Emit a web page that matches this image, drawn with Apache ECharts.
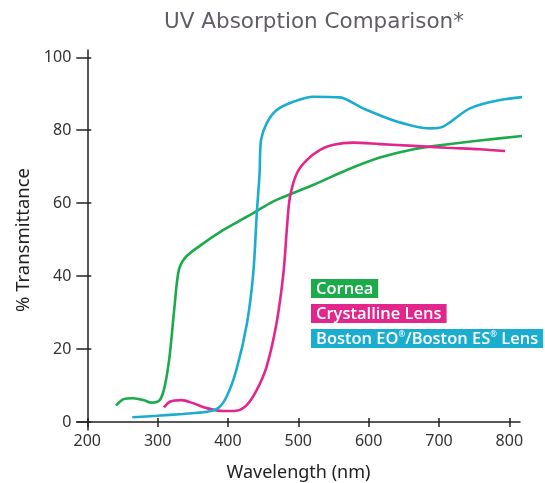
<!DOCTYPE html>
<html>
<head>
    <meta charset="utf8">
    <title>UV Absorption Comparison</title>
    <script src="https://cdn.jsdelivr.net/npm/echarts@6/dist/echarts.min.js"></script>
</head>
<body style="margin:0;background:#fff;">
    <div id="main" style="width: 545px;height:483px;"></div>
    <script type="text/javascript">
        // tick labels
        var xTicks = [200, 300, 400, 500, 600, 700, 800];
        var yTicks = [0, 20, 40, 60, 80, 100];

        // Cornea
        var corneaX = [241, 251, 265, 280, 291, 303, 310, 317, 324, 330, 339, 360, 393, 427, 460, 474, 521, 569, 616, 664, 711, 758, 822];
        var corneaY = [4.5, 6.2, 6.5, 6.0, 5.3, 6.0, 9.7, 18, 31.6, 41.5, 45, 48.3, 52.6, 56.3, 60, 61.3, 65, 69.1, 72.5, 74.8, 76.1, 77.2, 78.5];

        // Crystalline Lens
        var lensX = [309, 318, 334, 351, 370, 393, 412, 427, 441, 455, 469, 479, 484, 488, 498, 512, 531, 550, 578, 616, 664, 711, 758, 794];
        var lensY = [4.0, 5.6, 6.0, 5.1, 3.8, 3.0, 3.1, 4.7, 8.8, 15.2, 27, 41, 53.6, 61.5, 68.2, 71.8, 74.6, 76, 76.6, 76.2, 75.7, 75.2, 74.8, 74.3];

        // Boston EO / Boston ES Lens
        var bostonX = [264, 299, 336, 370, 386, 398, 412, 427, 436, 441, 445, 447, 455, 469, 493, 521, 559, 592, 640, 687, 706, 744, 787, 837];
        var bostonY = [1.3, 1.7, 2.2, 2.8, 3.8, 6.9, 14.3, 27, 40.8, 57.2, 68.2, 77.3, 81.9, 85.5, 87.8, 89.2, 89, 86, 82.4, 80.5, 81, 86, 88.3, 89.4];

        var names = ['Cornea', 'Crystalline Lens', 'Boston EO/Boston ES Lens'];
        var colors = ['#1bab4b', '#e2268c', '#1badd0'];

        function pairs(xs, ys) {
            var out = [];
            for (var i = 0; i < xs.length; i++) {
                out.push([xs[i], ys[i]]);
            }
            return out;
        }
        var allData = [pairs(corneaX, corneaY), pairs(lensX, lensY), pairs(bostonX, bostonY)];

        var labelFont = 'Noto Sans';
        var myChart = echarts.init(document.getElementById('main'));

        var series = [];
        for (var k = 0; k < names.length; k++) {
            series.push({
                name: names[k],
                type: 'line',
                data: allData[k],
                smooth: 0.3,
                showSymbol: false,
                clip: false,
                lineStyle: { color: colors[k], width: 2.6 },
                itemStyle: { color: colors[k] }
            });
        }

        function legendItem(i) {
            return {
                name: names[i],
                textStyle: {
                    backgroundColor: colors[i],
                    color: '#fff',
                    padding: [2, 5, 1, 5]
                }
            };
        }

        var option = {
            backgroundColor: '#fff',
            animation: false,
            title: {
                text: 'UV Absorption Comparison*',
                left: 309,
                top: 6,
                textAlign: 'center',
                textStyle: {
                    fontFamily: 'DejaVu Sans',
                    fontSize: 21.5,
                    fontWeight: 'normal',
                    color: '#615c68'
                }
            },
            legend: {
                orient: 'vertical',
                left: 301,
                top: 274,
                icon: 'none',
                itemWidth: 0,
                itemGap: 6,
                selectedMode: false,
                textStyle: {
                    fontFamily: 'Open Sans',
                    fontSize: 16.5,
                    lineHeight: 16,
                    fontWeight: 600,
                    rich: {
                        sup: { fontSize: 8, lineHeight: 16, verticalAlign: 'top', color: '#fff' }
                    }
                },
                formatter: function (name) {
                    if (name === names[2]) {
                        return 'Boston EO{sup|®}/Boston ES{sup|®} Lens';
                    }
                    return name;
                },
                data: [legendItem(0), legendItem(1), legendItem(2)]
            },
            grid: {
                left: 77,
                right: 25,
                top: 50,
                bottom: 53,
                containLabel: false,
                outerBoundsMode: 'none'
            },
            xAxis: [{
                type: 'value',
                min: 185.4,
                max: 815.2,
                name: 'Wavelength (nm)',
                nameLocation: 'middle',
                nameGap: 34,
                nameTextStyle: { fontFamily: labelFont, fontSize: 18, color: '#222' },
                axisLine: { onZero: true, lineStyle: { color: '#222', width: 1.5 } },
                axisTick: { show: true, length: 5, customValues: xTicks, lineStyle: { color: '#222', width: 1.5 } },
                axisLabel: { customValues: xTicks, margin: 3, fontFamily: labelFont, fontSize: 16, color: '#333' },
                splitLine: { show: false }
            }, {
                type: 'value',
                min: 185.4,
                max: 815.2,
                position: 'bottom',
                axisLine: { show: false },
                axisTick: { show: true, inside: true, length: 4, customValues: xTicks, lineStyle: { color: '#222', width: 1.5 } },
                axisLabel: { show: false },
                splitLine: { show: false }
            }],
            yAxis: [{
                type: 'value',
                min: -2.2,
                max: 102,
                offset: -10.3,
                name: '% Transmittance',
                nameLocation: 'middle',
                nameGap: 49,
                nameTextStyle: { fontFamily: labelFont, fontSize: 18.5, color: '#222' },
                axisLine: { show: true, onZero: false, lineStyle: { color: '#222', width: 1.5 } },
                axisTick: { show: true, length: 11, customValues: yTicks, lineStyle: { color: '#222', width: 1.5 } },
                axisLabel: { customValues: yTicks, margin: 16, fontFamily: labelFont, fontSize: 16, color: '#333' },
                splitLine: { show: false }
            }, {
                type: 'value',
                min: -2.2,
                max: 102,
                position: 'left',
                offset: -10.3,
                axisLine: { show: false },
                axisTick: { show: true, inside: true, length: 4, customValues: yTicks, lineStyle: { color: '#222', width: 1.5 } },
                axisLabel: { show: false },
                splitLine: { show: false }
            }],
            series: series
        };
        myChart.setOption(option);
    </script>
</body>
</html>
